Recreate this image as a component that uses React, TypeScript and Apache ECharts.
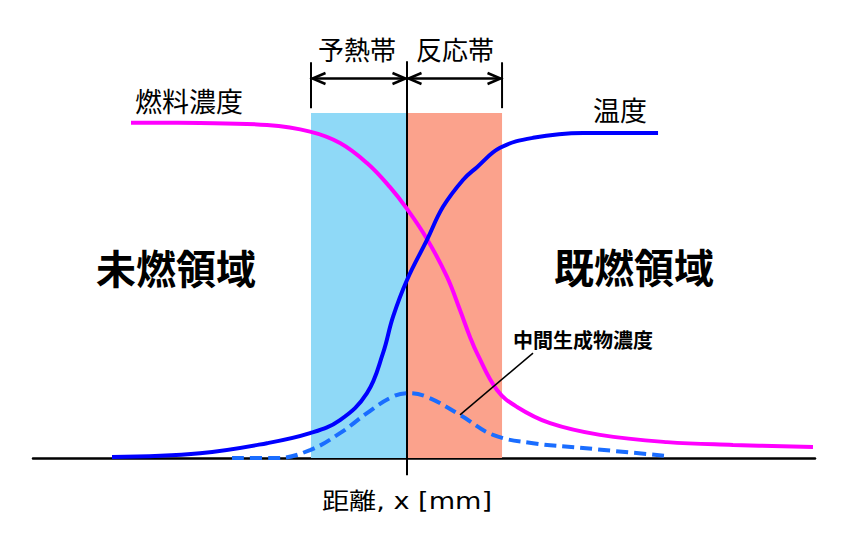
import React, { useEffect, useRef } from "react";
import * as echarts from "echarts";

// Distance from the flame front (reaction-zone start) and normalised profiles
const fuelDistance = [-2.875, -2.156, -1.458, -1.01, -0.698, -0.417, -0.177, 0, 0.208, 0.417, 0.552, 0.656, 0.729, 0.9375, 1.146, 1.49, 2.01, 2.708, 3.396, 4.229];
const fuelConcentration = [0.972, 0.971, 0.965, 0.946, 0.913, 0.855, 0.785, 0.722, 0.635, 0.525, 0.429, 0.351, 0.304, 0.197, 0.148, 0.101, 0.067, 0.046, 0.038, 0.032];

const tempDistance = [-3.073, -2.156, -1.458, -1.01, -0.698, -0.417, -0.25, -0.146, 0, 0.208, 0.375, 0.583, 0.729, 0.969, 1.3125, 1.833, 2.615];
const temperature = [0.003, 0.014, 0.043, 0.072, 0.11, 0.188, 0.304, 0.409, 0.516, 0.632, 0.728, 0.806, 0.843, 0.899, 0.928, 0.942, 0.942];

const interDistance = [-1.823, -1.354, -1.01, -0.698, -0.417, -0.177, 0, 0.208, 0.552, 0.896, 1.3125, 1.833, 2.708];
const intermediate = [0, 0, 0.023, 0.072, 0.13, 0.174, 0.188, 0.177, 0.125, 0.067, 0.043, 0.029, 0.006];

const preheatZone = [-1, 0];
const reactionZone = [0, 0.99];
const zoneNames = ["予熱帯", "反応帯"];
const curveNames = ["燃料濃度", "温度", "中間生成物濃度"];
const regionNames = ["未燃領域", "既燃領域"];
const xAxisName = "距離, x [mm]";
const leaderLine = [[0.552, 0.125], [1.3125, 0.304]];

const FONT = '"Noto Sans CJK JP", "Noto Sans", sans-serif';
const AXIS_FONT = '"DejaVu Sans", "Noto Sans CJK JP", sans-serif';

export default function App() {
  const ref = useRef<HTMLDivElement>(null);

  useEffect(() => {
    if (!ref.current) return;
    const chart = echarts.init(ref.current, undefined, { renderer: "svg" });
    const zip = (xs: number[], ys: number[]) => xs.map((x, i) => [x, ys[i]]);

    chart.setOption({
      animation: false,
      backgroundColor: "#ffffff",
      grid: { left: 33, right: 35, top: 61.25, bottom: 64.75, containLabel: false },
      xAxis: {
        type: "value",
        min: -374 / 96,
        max: 408 / 96,
        axisLine: { show: true, onZero: true, lineStyle: { color: "#000", width: 2.5 } },
        axisTick: { show: false },
        axisLabel: { show: false },
        splitLine: { show: false },
      },
      yAxis: {
        type: "value",
        min: -0.05,
        max: 1.15,
        show: false,
        splitLine: { show: false },
      },
      series: [
        {
          type: "line",
          data: [],
          silent: true,
          markArea: {
            silent: true,
            z: 1,
            data: [
              [
                { xAxis: preheatZone[0], yAxis: 0, itemStyle: { color: "#8fd9f7", opacity: 1 } },
                { xAxis: preheatZone[1], yAxis: 1 },
              ],
              [
                { xAxis: reactionZone[0], yAxis: 0, itemStyle: { color: "#fba28c", opacity: 1 } },
                { xAxis: reactionZone[1], yAxis: 1 },
              ],
            ],
          },
          markLine: {
            silent: true,
            z: 1.5,
            symbol: "none",
            label: { show: false },
            lineStyle: { color: "#000", width: 2, type: "solid" },
            data: [{ xAxis: 0 }],
          },
        },
        {
          name: curveNames[2],
          type: "line",
          smooth: 0.4,
          symbol: "none",
          silent: true,
          z: 3,
          lineStyle: { color: "#1a6dff", width: 4, type: [12, 6] },
          data: zip(interDistance, intermediate),
        },
        {
          name: curveNames[0],
          type: "line",
          smooth: 0.4,
          symbol: "none",
          silent: true,
          z: 4,
          lineStyle: { color: "#ff00ff", width: 4 },
          data: zip(fuelDistance, fuelConcentration),
        },
        {
          name: curveNames[1],
          type: "line",
          smooth: 0.4,
          symbol: "none",
          silent: true,
          z: 4,
          lineStyle: { color: "#0000ff", width: 4 },
          data: zip(tempDistance, temperature),
        },
        {
          type: "line",
          symbol: "none",
          silent: true,
          z: 5,
          lineStyle: { color: "#000", width: 1.5 },
          data: leaderLine,
        },
      ],
    });

    const p = (x: number, y: number) => chart.convertToPixel({ gridIndex: 0 }, [x, y]) as number[];
    const arrowY = 1.1;
    const tickTop = 1.147;
    const tickBottom = 1.014;
    const L = 13;
    const H = 5.5;
    const black = { stroke: "#000", lineWidth: 2.5, fill: "none" };

    const tick = (x: number) => {
      const a = p(x, tickTop);
      const b = p(x, tickBottom);
      return { type: "line", shape: { x1: a[0], y1: a[1], x2: b[0], y2: b[1] }, style: { stroke: "#000", lineWidth: 2 } };
    };
    const arrow = (x0: number, x1: number) => {
      const a = p(x0, arrowY);
      const b = p(x1, arrowY);
      const ax = a[0] + 1.5;
      const bx = b[0] - 1.5;
      const y = a[1];
      return [
        { type: "line", shape: { x1: ax, y1: y, x2: bx, y2: y }, style: black },
        { type: "polyline", shape: { points: [[ax + L, y - H], [ax, y], [ax + L, y + H]] }, style: black },
        { type: "polyline", shape: { points: [[bx - L, y - H], [bx, y], [bx - L, y + H]] }, style: black },
      ];
    };
    const text = (t: string, x: number, y: number, size: number, weight = "normal", family = FONT, scaleX = 1) => ({
      type: "text",
      x,
      y,
      scaleX,
      style: { text: t, fill: "#000", font: `${weight} ${size}px ${family}`, align: "center", verticalAlign: "middle" },
    });

    chart.setOption({
      graphic: [
        tick(preheatZone[0]),
        tick(reactionZone[1]),
        ...arrow(preheatZone[0], preheatZone[1]),
        ...arrow(reactionZone[0], reactionZone[1]),
        text(zoneNames[0], 357, 48, 26),
        text(zoneNames[1], 455, 48, 26),
        text(curveNames[0], 189, 100, 27),
        text(curveNames[1], 620, 109, 27),
        text(curveNames[2], 583, 339, 20, "bold"),
        text(regionNames[0], 176, 267, 40, "bold"),
        text(regionNames[1], 634, 266, 40, "bold"),
        text(xAxisName, 407, 501, 23, "normal", AXIS_FONT, 1.18),
      ],
    });

    return () => chart.dispose();
  }, []);

  return <div ref={ref} style={{ position: "fixed", left: 0, top: 0, width: 850, height: 540 }} />;
}
